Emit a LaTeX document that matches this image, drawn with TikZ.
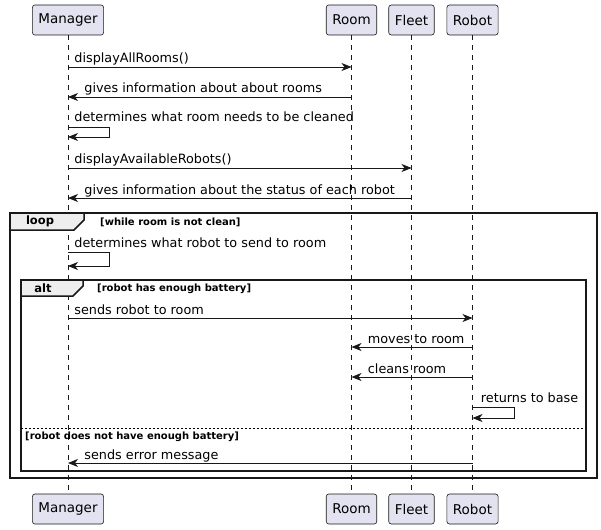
\documentclass[tikz,border=0pt]{standalone}
\usepackage{fontspec}
\setmainfont{DejaVu Sans}
\usetikzlibrary{positioning,arrows.meta}
\definecolor{partfill}{HTML}{E2E2F0}
\definecolor{partline}{HTML}{181818}
\definecolor{tabfill}{HTML}{EEEEEE}
\tikzset{
  actor/.style={draw=partline, fill=partfill, rounded corners=2.5pt, line width=0.6pt,
    minimum height=30pt, inner xsep=6pt, font=\fontsize{13.5}{16}\selectfont},
  lifeline/.style={draw=partline, line width=0.5pt, dash pattern=on 5pt off 5pt},
  msg/.style={-{Stealth[length=10pt,width=8pt,inset=3pt]}, line width=0.8pt, draw=partline},
  txt/.style={inner sep=0pt, anchor=base west, font=\fontsize{12.8}{15}\selectfont},
  frame/.style={line width=1.5pt, draw=partline},
  guard/.style={inner sep=0pt, anchor=base west, font=\bfseries\fontsize{10}{12}\selectfont},
  tablabel/.style={inner sep=0pt, font=\bfseries\fontsize{11.5}{14}\selectfont},
  sep/.style={line width=0.6pt, dash pattern=on 2pt off 2pt}
}
\begin{document}
\begin{tikzpicture}[x=1pt,y=-1pt]
  \useasboundingbox (0,0) rectangle (601,529);
  % participants
  \node[actor] (manager) at (68,20) {Manager};
  \node[actor] (room) at (351.5,20) {Room};
  \node[actor] (fleet) at (411.5,20) {Fleet};
  \node[actor] (robot) at (472.5,20) {Robot};
  \node[actor] (managerB) at (68,509) {Manager};
  \node[actor] (roomB) at (351.5,509) {Room};
  \node[actor] (fleetB) at (411.5,509) {Fleet};
  \node[actor] (robotB) at (472.5,509) {Robot};
  \draw[lifeline] (manager) -- (managerB);
  \draw[lifeline] (room) -- (roomB);
  \draw[lifeline] (fleet) -- (fleetB);
  \draw[lifeline] (robot) -- (robotB);

  % rows
  \coordinate (r1) at (manager |- 0,67);
  \coordinate (r2) at (manager |- 0,97);
  \coordinate (r3) at (manager |- 0,127);
  \coordinate (r4) at (manager |- 0,168);
  \coordinate (r5) at (manager |- 0,198);
  \coordinate (r6) at (manager |- 0,252);
  \coordinate (r7) at (manager |- 0,318);
  \coordinate (r8) at (manager |- 0,347);
  \coordinate (r9) at (manager |- 0,377);
  \coordinate (r10) at (robot |- 0,407);
  \coordinate (r11) at (manager |- 0,463);

  % loop and alt frames
  \draw[frame] (10,213) rectangle (597,478);
  \draw[frame, fill=tabfill] (10,213) -- (84,213) -- (84,220) -- (74,230) -- (10,230) -- cycle;
  \node[tablabel] at (40,221.5) {loop};
  \node[guard] at (100,225) {[while room is not clean]};
  \draw[frame] (21,280) rectangle (586,471);
  \draw[frame, fill=tabfill] (21,280) -- (83,280) -- (83,286) -- (73,296) -- (21,296) -- cycle;
  \node[tablabel] at (43,288) {alt};
  \node[guard] at (97,291) {[robot has enough battery]};
  \draw[sep] (21,428) -- (586,428);
  \node[guard] at (25,439) {[robot does not have enough battery]};

  % messages
  \draw[msg] (r1) -- (r1 -| room) node[txt, pos=0, xshift=6pt, yshift=4pt] {displayAllRooms()};
  \draw[msg] (r2 -| room) -- (r2) node[txt, pos=1, xshift=16pt, yshift=4pt] {gives information about about rooms};
  \draw[msg] (r3) node[txt, xshift=6pt, yshift=5pt] {determines what room needs to be cleaned}
    -- ++(41,0) -- ++(0,10) -- ++(-41,0);
  \draw[msg] (r4) -- (r4 -| fleet) node[txt, pos=0, xshift=6pt, yshift=4pt] {displayAvailableRobots()};
  \draw[msg] (r5 -| fleet) -- (r5) node[txt, pos=1, xshift=16pt, yshift=4pt] {gives information about the status of each robot};
  \draw[msg] (r6) node[txt, xshift=6pt, yshift=5pt] {determines what robot to send to room}
    -- ++(41,0) -- ++(0,14) -- ++(-41,0);
  \draw[msg] (r7) -- (r7 -| robot) node[txt, pos=0, xshift=6pt, yshift=4pt] {sends robot to room};
  \draw[msg] (r8 -| robot) -- (r8 -| room) node[txt, pos=1, xshift=16pt, yshift=4pt] {moves to room};
  \draw[msg] (r9 -| robot) -- (r9 -| room) node[txt, pos=1, xshift=16pt, yshift=4pt] {cleans room};
  \draw[msg] (r10) node[txt, xshift=8pt, yshift=5pt] {returns to base}
    -- ++(42,0) -- ++(0,11) -- ++(-42,0);
  \draw[msg] (r11 -| robot) -- (r11) node[txt, pos=1, xshift=16pt, yshift=4pt] {sends error message};
\end{tikzpicture}
\end{document}
